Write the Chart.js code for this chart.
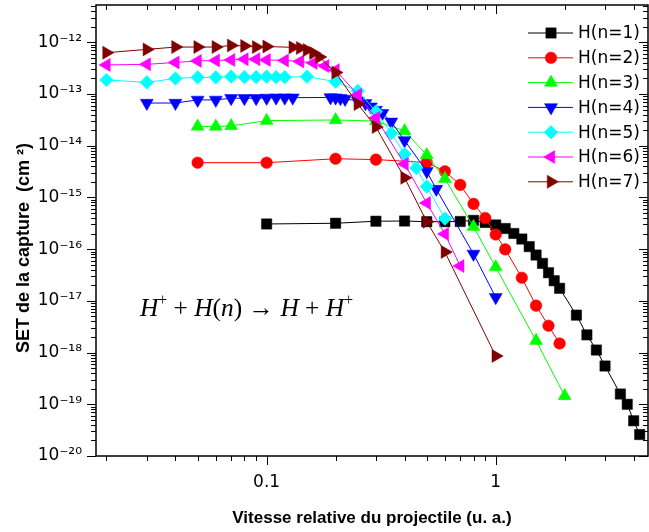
<!DOCTYPE html>
<html>
<head>
<meta charset="utf-8">
<script src="https://cdn.jsdelivr.net/npm/chart.js"></script>
<style>
  html, body { margin: 0; padding: 0; background: #fff; }
</style>
</head>
<body>
<canvas id="chart" width="649" height="532"></canvas>
<script>
// données (vitesse en u.a., section efficace en cm^2)
const seriesNames = ['H(n=1)', 'H(n=2)', 'H(n=3)', 'H(n=4)', 'H(n=5)', 'H(n=6)', 'H(n=7)'];

const x1 = [0.1, 0.2, 0.3, 0.4, 0.5, 0.6, 0.7, 0.8, 0.9, 1.0, 1.1, 1.2, 1.3, 1.4, 1.5, 1.6, 1.7, 1.8, 1.9, 2.25, 2.5, 2.75, 3.0, 3.5, 3.75, 4.0, 4.25];
const y1 = [3.07e-16, 3.17e-16, 3.47e-16, 3.5e-16, 3.4e-16, 3.4e-16, 3.43e-16, 3.6e-16, 3.28e-16, 2.94e-16, 2.51e-16, 2.01e-16, 1.57e-16, 1.12e-16, 7.7e-17, 5.3e-17, 3.5e-17, 2.45e-17, 1.75e-17, 5.3e-18, 2.2e-18, 1.12e-18, 5.5e-19, 1.58e-19, 1.0e-19, 4.8e-20, 2.6e-20];

const x2 = [0.05, 0.1, 0.2, 0.3, 0.5, 0.6, 0.7, 0.8, 0.9, 1.0, 1.1, 1.3, 1.5, 1.7, 1.9];
const y2 = [4.7e-15, 4.7e-15, 5.6e-15, 5.4e-15, 4.75e-15, 3.2e-15, 1.75e-15, 7.5e-16, 4.0e-16, 1.92e-16, 9.9e-17, 2.8e-17, 8.1e-18, 3.3e-18, 1.5e-18];

const x3 = [0.05, 0.06, 0.07, 0.1, 0.2, 0.3, 0.4, 0.5, 0.6, 0.8, 1.0, 1.5, 2.0];
const y3 = [2.36e-14, 2.36e-14, 2.42e-14, 3.06e-14, 3.15e-14, 3.0e-14, 1.93e-14, 6.6e-15, 2.3e-15, 2.7e-16, 4.5e-17, 1.7e-18, 1.45e-19];

const x4 = [0.03, 0.04, 0.05, 0.06, 0.07, 0.08, 0.09, 0.1, 0.11, 0.12, 0.13, 0.19, 0.2, 0.21, 0.22, 0.25, 0.27, 0.285, 0.3, 0.32, 0.35, 0.4, 0.5, 0.55, 0.8, 1.0];
const y4 = [6.7e-14, 6.7e-14, 7.7e-14, 7.7e-14, 8.3e-14, 8.3e-14, 8.3e-14, 8.4e-14, 8.5e-14, 8.5e-14, 8.5e-14, 8.6e-14, 8.5e-14, 8.3e-14, 8.0e-14, 7.4e-14, 6.6e-14, 5.7e-14, 4.9e-14, 4.25e-14, 2.9e-14, 1.27e-14, 3.2e-15, 1.45e-15, 8.1e-17, 1.17e-17];

const x5 = [0.02, 0.03, 0.04, 0.05, 0.06, 0.07, 0.08, 0.09, 0.1, 0.11, 0.12, 0.15, 0.2, 0.25, 0.3, 0.35, 0.4, 0.45, 0.5, 0.6];
const y5 = [1.87e-13, 1.68e-13, 2.0e-13, 2.1e-13, 2.1e-13, 2.17e-13, 2.12e-13, 2.12e-13, 2.17e-13, 2.12e-13, 2.12e-13, 2.17e-13, 1.74e-13, 1.15e-13, 4.6e-14, 1.75e-14, 6.9e-15, 3.7e-15, 1.62e-15, 3.9e-16];

const x6 = [0.02, 0.03, 0.04, 0.05, 0.06, 0.07, 0.08, 0.09, 0.1, 0.12, 0.14, 0.16, 0.18, 0.2, 0.25, 0.3, 0.4, 0.5, 0.6, 0.7];
const y6 = [3.66e-13, 3.75e-13, 4.08e-13, 4.37e-13, 4.46e-13, 4.57e-13, 4.71e-13, 4.71e-13, 4.57e-13, 4.46e-13, 4.27e-13, 4.0e-13, 3.5e-13, 2.9e-13, 9.6e-14, 3.45e-14, 4.45e-15, 7.8e-16, 1.97e-16, 4.7e-17];

const x7 = [0.02, 0.03, 0.04, 0.05, 0.06, 0.07, 0.08, 0.09, 0.1, 0.13, 0.14, 0.15, 0.16, 0.17, 0.2, 0.25, 0.3, 0.4, 0.5, 0.6, 1.0];
const y7 = [6.3e-13, 7.3e-13, 8.1e-13, 8.1e-13, 8.1e-13, 8.7e-13, 8.5e-13, 8.1e-13, 8.3e-13, 8.0e-13, 7.8e-13, 7.1e-13, 6.2e-13, 5.2e-13, 2.6e-13, 6.4e-14, 2.3e-14, 2.4e-15, 3.4e-16, 8.8e-17, 8.6e-19];

// graduations
const xTicks = [0.1, 1];
const xMinorTicks = [0.02, 0.03, 0.04, 0.05, 0.06, 0.07, 0.08, 0.09, 0.2, 0.3, 0.4, 0.5, 0.6, 0.7, 0.8, 0.9, 2, 3, 4];
const yTicks = [1e-20, 1e-19, 1e-18, 1e-17, 1e-16, 1e-15, 1e-14, 1e-13, 1e-12];
const xMin = 0.018, xMax = 4.62;
const yMin = 1e-20, yMax = 5.27e-12;

const colors = ['#000000', '#ff0000', '#00ff00', '#0000ff', '#00ffff', '#ff00ff', '#800000'];
const styles = ['rect', 'circle', 'triangle', 'triangle', 'rectRot', 'triangle', 'triangle'];
const rotations = [0, 0, 0, 180, 0, 270, 90];
const radii = [7.3, 5.8, 7.5, 7.5, 6.8, 7.5, 7.5];

const xs = [x1, x2, x3, x4, x5, x6, x7];
const ys = [y1, y2, y3, y4, y5, y6, y7];

const SUP = { '-': '\u207B', '0': '\u2070', '1': '\u00B9', '2': '\u00B2', '3': '\u00B3', '4': '\u2074', '5': '\u2075', '6': '\u2076', '7': '\u2077', '8': '\u2078', '9': '\u2079' };
const sup = s => s.split('').map(c => SUP[c] || c).join('');

const datasets = seriesNames.map((name, i) => ({
  label: name,
  data: xs[i].map((x, j) => ({ x: x, y: ys[i][j] })),
  borderColor: colors[i],
  backgroundColor: colors[i],
  borderWidth: 1,
  pointStyle: styles[i],
  rotation: rotations[i],
  pointRadius: radii[i],
  pointBorderWidth: 0.5,
  pointBackgroundColor: colors[i],
  pointBorderColor: colors[i],
  tension: 0,
  order: 6 - i
}));

// cadre + graduations majeures/mineures sur les 4 côtés
const frameTicks = {
  id: 'frameTicks',
  afterDraw(chart) {
    const { ctx, chartArea: a, scales: { x, y } } = chart;
    ctx.save();
    ctx.strokeStyle = '#000';
    ctx.lineWidth = 1.5;
    ctx.strokeRect(a.left, a.top, a.right - a.left, a.bottom - a.top);
    ctx.lineWidth = 1;
    ctx.beginPath();
    const xt = (v, len) => {
      const px = Math.round(x.getPixelForValue(v)) + 0.5;
      ctx.moveTo(px, a.bottom); ctx.lineTo(px, a.bottom + len);
      ctx.moveTo(px, a.top); ctx.lineTo(px, a.top + len);
    };
    const yt = (v, len) => {
      const py = Math.round(y.getPixelForValue(v)) + 0.5;
      if (py < a.top || py > a.bottom + 1) return;
      ctx.moveTo(a.left, py); ctx.lineTo(a.left - len, py);
      ctx.moveTo(a.right, py); ctx.lineTo(a.right - len, py);
    };
    xTicks.forEach(v => xt(v, 9));
    xMinorTicks.forEach(v => xt(v, 5));
    yTicks.forEach(v => {
      yt(v, 9);
      for (let k = 2; k <= 9; k++) yt(v * k, 5);
    });
    ctx.stroke();
    ctx.restore();
  }
};

// légende avec trait + symbole
const lineLegend = {
  id: 'lineLegend',
  afterDatasetsDraw(chart) {
    const ctx = chart.ctx;
    ctx.save();
    chart.data.datasets.forEach((ds, i) => {
      const yy = 33 + i * 24.8;
      ctx.strokeStyle = ds.borderColor;
      ctx.fillStyle = ds.borderColor;
      ctx.lineWidth = 1;
      ctx.beginPath();
      ctx.moveTo(528, yy); ctx.lineTo(573, yy);
      ctx.stroke();
      ctx.lineWidth = 0.5;
      Chart.helpers.drawPoint(ctx, { pointStyle: ds.pointStyle, rotation: ds.rotation, radius: ds.pointRadius, borderWidth: 0.5 }, 551, yy);
      ctx.fillStyle = '#000';
      ctx.font = '17px "DejaVu Sans"';
      ctx.textAlign = 'left';
      ctx.textBaseline = 'middle';
      ctx.fillText(ds.label, 578, yy + 1);
    });
    ctx.restore();
  }
};

// H+ + H(n) -> H + H+
const reaction = [['H', 'i'], ['+', 's'], [' + ', 'r'], ['H', 'i'], ['(', 'r'], ['n', 'i'], [')', 'r'], [' \u2192 ', 'r'], ['H', 'i'], [' + ', 'r'], ['H', 'i'], ['+', 's']];
const reactionLabel = {
  id: 'reactionLabel',
  afterDraw(chart) {
    const ctx = chart.ctx;
    const size = 26;
    const fontOf = k => k === 'i' ? `italic ${size}px "Liberation Serif"` : (k === 's' ? `${Math.round(size * 0.6)}px "Liberation Serif"` : `${size}px "Liberation Serif"`);
    ctx.save();
    let total = 0;
    reaction.forEach(([t, k]) => { ctx.font = fontOf(k); total += ctx.measureText(t).width; });
    const x0 = 140, base = 316, target = 213;
    ctx.translate(x0, base);
    ctx.scale(target / total, 1);
    ctx.fillStyle = '#000';
    ctx.textBaseline = 'alphabetic';
    let cx = 0;
    reaction.forEach(([t, k]) => {
      ctx.font = fontOf(k);
      ctx.fillText(t, cx, k === 's' ? -size * 0.42 : 0);
      cx += ctx.measureText(t).width;
    });
    ctx.restore();
  }
};

new Chart(document.getElementById('chart'), {
  type: 'line',
  data: { datasets: datasets },
  options: {
    responsive: false,
    animation: false,
    layout: { autoPadding: false, padding: { top: 5, right: 1, left: 0, bottom: 0 } },
    plugins: { legend: { display: false }, tooltip: { enabled: false } },
    scales: {
      x: {
        type: 'logarithmic',
        min: xMin,
        max: xMax,
        grid: { display: false, drawTicks: false },
        border: { display: false },
        afterBuildTicks: s => { s.ticks = xTicks.map(v => ({ value: v })); },
        afterFit: s => { s.height = 76; s.paddingLeft = 0; s.paddingRight = 0; },
        ticks: {
          autoSkip: false, maxRotation: 0, padding: 16, color: '#000',
          font: { family: 'DejaVu Sans', size: 17 },
          callback: v => String(v)
        },
        title: {
          display: true,
          text: 'Vitesse relative du projectile (u. a.)',
          color: '#000',
          font: { family: 'Liberation Sans', size: 17, weight: 'bold' },
          padding: { top: 0, bottom: 3 }
        }
      },
      y: {
        type: 'logarithmic',
        min: yMin,
        max: yMax,
        grid: { display: false, drawTicks: false },
        border: { display: false },
        afterBuildTicks: s => { s.ticks = yTicks.map(v => ({ value: v })); },
        afterFit: s => { s.width = 96; s.paddingTop = 0; s.paddingBottom = 0; },
        ticks: {
          autoSkip: false, padding: 14, color: '#000',
          font: { family: 'DejaVu Sans', size: 17 },
          callback: v => '10' + sup(String(Math.round(Math.log10(v))))
        },
        title: {
          display: true,
          // espaces insécables en fin : décale le titre vers le bas comme sur l'original
          text: 'SET de la capture  (cm \u00B2)\u00A0\u00A0\u00A0\u00A0\u00A0\u00A0\u00A0',
          color: '#000',
          font: { family: 'Liberation Sans', size: 18, weight: 'bold' },
          padding: { top: 13, bottom: 0 }
        }
      }
    }
  },
  plugins: [frameTicks, lineLegend, reactionLabel]
});
</script>
</body>
</html>
